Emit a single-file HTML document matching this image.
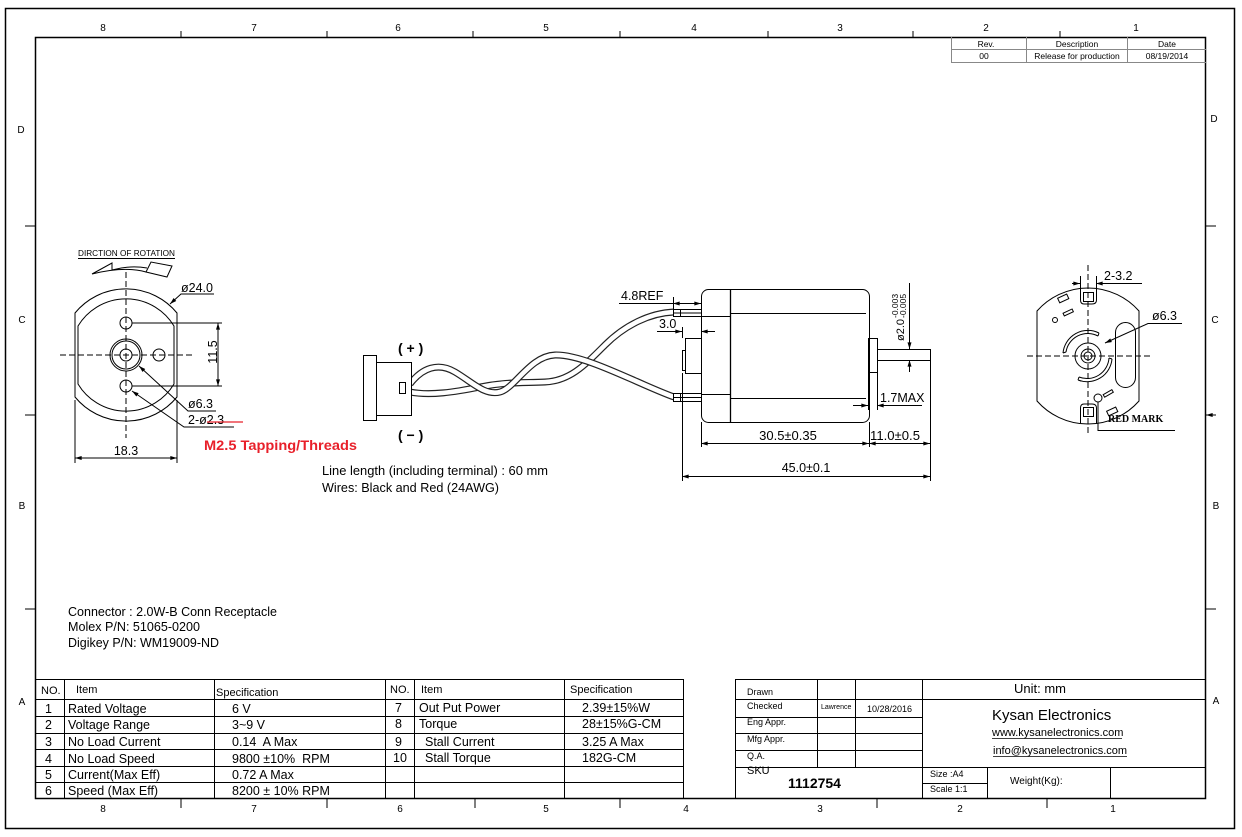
<!DOCTYPE html>
<html><head><meta charset="utf-8"><style>
html,body{margin:0;padding:0;background:#fff;}
svg{display:block;}
text{font-family:"Liberation Sans",Arial,sans-serif;fill:#000;}
.z{font-family:"Liberation Mono",monospace;font-size:10px;fill:#222;}
.c{font-size:12.5px;}
.t{font-size:12.5px;}
.h{font-size:11px;}
.g{font-size:8.5px;fill:#777;}
</style></head><body>
<svg width="1242" height="837" viewBox="0 0 1242 837" xmlns="http://www.w3.org/2000/svg">
<defs>
<marker id="a" viewBox="0 0 10 6" refX="10" refY="3" markerWidth="7" markerHeight="4" orient="auto-start-reverse" markerUnits="userSpaceOnUse"><path d="M0,0 L10,3 L0,6 z" fill="#000"/></marker>
</defs>
<rect width="1242" height="837" fill="#fff"/>
<!-- borders -->
<rect x="5.5" y="8.5" width="1229" height="820" fill="none" stroke="#000" stroke-width="1.5"/>
<rect x="35.5" y="37.5" width="1170" height="761" fill="none" stroke="#000" stroke-width="1.5"/>
<!-- zone ticks -->
<g stroke="#000" stroke-width="1">
<path d="M181,31V37M327,31V37M473,31V37M620,31V37M768,31V37M913,31V37M1060,31V37"/>
<path d="M181,799V808M327,799V808M475,799V808M620,799V808M877,799V808M1047,799V808"/>
<path d="M25,226H35M25,415H35M25,609H35"/>
<path d="M1206,226H1216M1206,609H1216"/>
<path d="M1206,415H1216" marker-start="url(#a)"/>
</g>
<g class="z" text-anchor="middle">
<text x="103" y="31">8</text><text x="254" y="31">7</text><text x="398" y="31">6</text><text x="546" y="31">5</text><text x="694" y="31">4</text><text x="840" y="31">3</text><text x="986" y="31">2</text><text x="1136" y="31">1</text>
<text x="103" y="812">8</text><text x="254" y="812">7</text><text x="400" y="812">6</text><text x="546" y="812">5</text><text x="686" y="812">4</text><text x="820" y="812">3</text><text x="960" y="812">2</text><text x="1113" y="812">1</text>
<text x="21" y="133">D</text><text x="22" y="323">C</text><text x="22" y="509">B</text><text x="22" y="705">A</text>
<text x="1214" y="122">D</text><text x="1215" y="323">C</text><text x="1216" y="509">B</text><text x="1216" y="704">A</text>
</g>
<!-- revision block -->
<g stroke="#888" stroke-width="1" fill="none">
<path d="M951.5,37V62.5H1206M951.5,49.5H1206M1026.5,37V62.5M1127.5,37V62.5"/>
</g>
<g class="g" text-anchor="middle">
<text x="986" y="47">Rev.</text><text x="1077" y="47">Description</text><text x="1167" y="47">Date</text>
<text x="984" y="59">00</text><text x="1077" y="59">Release for production</text><text x="1167" y="59">08/19/2014</text>
</g>

<!-- LEFT VIEW -->
<text x="78" y="256" font-size="8.3" textLength="97" lengthAdjust="spacingAndGlyphs">DIRCTION OF ROTATION</text>
<path d="M78,258.5H175" stroke="#000" stroke-width="1"/>
<g fill="none" stroke="#000" stroke-width="1">
<path d="M92,274 L112,263 L112,270 Q130,265 147,268 M92,274 Q125,266 146,272"/>
<path d="M146,272 L151,262 L172,266 L167,277 Z"/>
<path d="M75,313 A66,66 0 0 1 177,313 L177,397 A66,66 0 0 1 75,397 Z"/>
<path d="M78,326 A56,56 0 0 1 174,326 L174,384 A56,56 0 0 1 78,384 Z"/>
<circle cx="126" cy="323" r="6"/><circle cx="126" cy="386" r="6"/><circle cx="159" cy="355" r="6"/>
<circle cx="126" cy="355" r="16"/><circle cx="126" cy="355" r="14"/><circle cx="126" cy="355" r="6"/>
<path d="M60,355H192M126,272V438" stroke-dasharray="6,3"/>
<path d="M132,323H222M132,386H222"/>
<path d="M218,323V386" marker-start="url(#a)" marker-end="url(#a)"/>
<path d="M214,294H181L170,304" marker-end="url(#a)"/>
<path d="M216,411H188L139,366" marker-end="url(#a)"/>
<path d="M234,427H184L132,391" marker-end="url(#a)"/>
<path d="M75,400V463M177,400V463"/>
<path d="M75,458H177" marker-start="url(#a)" marker-end="url(#a)"/>
</g>
<text x="181" y="292" font-size="12.5">ø24.0</text>
<text transform="translate(217,352) rotate(-90)" text-anchor="middle" font-size="12.5">11.5</text>
<text x="188" y="408" font-size="12.5">ø6.3</text>
<text x="188" y="424" font-size="12.5">2-ø2.3</text>
<path d="M207,422H243" stroke="#e8202a" stroke-width="1.2"/>
<text x="126" y="455" font-size="12.5" text-anchor="middle">18.3</text>
<text x="204" y="450" font-size="14" font-weight="bold" style="fill:#e8202a" textLength="153" lengthAdjust="spacingAndGlyphs">M2.5 Tapping/Threads</text>

<!-- CONNECTOR + WIRES -->
<g fill="none">
<path id="wb" d="M410,392 C430,396 455,392 480,387 S520,383 545,382 C570,381 585,365 605,345 C625,325 650,313 674,312" stroke="#222" stroke-width="7"/>
<path d="M410,392 C430,396 455,392 480,387 S520,383 545,382 C570,381 585,365 605,345 C625,325 650,313 674,312" stroke="#fff" stroke-width="4.6"/>
<path d="M410,384 C422,368 438,362 455,372 S485,396 500,392 C515,388 530,356 555,355 C585,354 640,385 674,397" stroke="#222" stroke-width="7"/>
<path d="M410,384 C422,368 438,362 455,372 S485,396 500,392 C515,388 530,356 555,355 C585,354 640,385 674,397" stroke="#fff" stroke-width="4.6"/>
</g>
<g fill="#fff" stroke="#000" stroke-width="1">
<rect x="363.5" y="355.5" width="13" height="65"/>
<rect x="376.5" y="362.5" width="35" height="53"/>
<rect x="399.5" y="382.5" width="6" height="11"/>
</g>
<text x="398" y="353" font-size="14" font-weight="bold">( + )</text>
<text x="398" y="440" font-size="14" font-weight="bold">( − )</text>
<text x="322" y="475" class="t" textLength="226" lengthAdjust="spacingAndGlyphs">Line length (including terminal) :  60 mm</text>
<text x="322" y="492" class="t" textLength="177" lengthAdjust="spacingAndGlyphs">Wires: Black and Red (24AWG)</text>

<!-- MOTOR SIDE VIEW -->
<g fill="none" stroke="#000" stroke-width="1">
<rect x="701.5" y="289.5" width="168" height="133" rx="7" fill="#fff"/>
<path d="M730.5,289V422" stroke-width="1.3"/>
<path d="M730,313.5H866M730,398.5H866M701,316.5H730M701,394.5H730"/>
<rect x="685.5" y="338.5" width="16" height="35"/>
<rect x="682.5" y="350.5" width="3" height="20"/>
<rect x="673.5" y="309.5" width="28" height="7" fill="#fff"/><path d="M680.5,309V316M673,313H701"/>
<rect x="673.5" y="393.5" width="28" height="8" fill="#fff"/><path d="M680.5,393V401M673,397.5H701"/>
<rect x="868.5" y="338.5" width="9" height="34"/>
<rect x="877.5" y="349.5" width="53" height="11"/>
<path d="M909.5,283V349" marker-end="url(#a)"/>
<path d="M909.5,372V360" marker-end="url(#a)"/>
<path d="M619,303.5H673M673.5,297V309"/>
<path d="M673,303.5H701" marker-start="url(#a)" marker-end="url(#a)"/>
<path d="M657,331.5H672"/>
<path d="M670,331.5H682" marker-end="url(#a)"/>
<path d="M715,331.5H701" marker-end="url(#a)"/>
<path d="M682.5,327V338"/>
<path d="M877,405.5H922"/>
<path d="M853,405.5H868" marker-end="url(#a)"/>
<path d="M886,405.5H877" marker-end="url(#a)"/>
<path d="M868.5,372V410M877.5,360V410"/>
<path d="M701.5,422V447M869.5,422V447"/>
<path d="M701,443.5H869" marker-start="url(#a)" marker-end="url(#a)"/>
<path d="M869,443.5H930" marker-start="url(#a)" marker-end="url(#a)"/>
<path d="M682.5,373V481M930.5,360V481"/>
<path d="M682,476.5H930" marker-start="url(#a)" marker-end="url(#a)"/>
</g>
<text x="621" y="300" font-size="12.5">4.8REF</text>
<text x="659" y="328" font-size="12.5">3.0</text>
<text x="880" y="402" font-size="12.5">1.7MAX</text>
<text x="788" y="440" font-size="13" text-anchor="middle">30.5±0.35</text>
<text x="870" y="440" font-size="12.5" textLength="50" lengthAdjust="spacingAndGlyphs">11.0±0.5</text>
<text x="806" y="472" font-size="12.5" text-anchor="middle">45.0±0.1</text>
<text transform="translate(904,341) rotate(-90)" font-size="11">ø2.0</text>
<text transform="translate(898,318) rotate(-90)" font-size="8.5">-0.003</text>
<text transform="translate(906,318) rotate(-90)" font-size="8.5">-0.005</text>

<!-- RIGHT VIEW -->
<g fill="none" stroke="#000" stroke-width="1">
<path d="M1037,311 A68,68 0 0 1 1139,311 L1139,401 A68,68 0 0 1 1037,401 Z"/>
<path d="M1080.5,289V300Q1080.5,304 1084,304H1092Q1096.5,304 1096.5,300V289"/>
<rect x="1083.5" y="292.5" width="10" height="9"/>
<path d="M1080.5,423V408Q1080.5,404 1084,404H1092Q1096.5,404 1096.5,408V423"/>
<rect x="1083.5" y="407.5" width="10" height="9"/>
<rect x="1115.5" y="322.5" width="20" height="65" rx="10"/>
<circle cx="1088" cy="356" r="13"/><circle cx="1088" cy="356" r="7"/><circle cx="1088" cy="356" r="4"/>
<path d="M1066,352 A22,22 0 0 1 1098,336M1063,353 A25,25 0 0 1 1099,333M1066,352L1063,353M1098,336L1099,333"/>
<path d="M1079,377 A22,22 0 0 0 1109,358M1078,380 A25,25 0 0 0 1112,359M1079,377L1078,380M1109,358L1112,359"/>
<path d="M1088,265V436M1027,356H1150" stroke-dasharray="6,3"/>
<circle cx="1055" cy="320" r="2.5"/>
<rect x="1063" y="311" width="10" height="3" transform="rotate(-25 1068 312)"/>
<rect x="1058" y="296" width="10" height="5" transform="rotate(-25 1063 298)"/>
<rect x="1107" y="409" width="10" height="5" transform="rotate(-25 1112 411)"/>
<circle cx="1098" cy="398" r="4"/>
<rect x="1103" y="392" width="10" height="3" transform="rotate(-30 1108 393)"/>
<path d="M1098,402V430.5H1175"/>
<path d="M1098,283.5H1142"/>
<path d="M1072,283.5H1080" marker-end="url(#a)"/>
<path d="M1104,283.5H1096" marker-end="url(#a)"/>
<path d="M1080.5,276V289M1096.5,276V289"/>
<path d="M1182,323.5H1148L1105,343" marker-end="url(#a)"/>
</g>
<text x="1104" y="280" font-size="12.5">2-3.2</text>
<text x="1152" y="320" font-size="12.5">ø6.3</text>
<text x="1108" y="422" font-size="10" font-weight="bold" style="font-family:'Liberation Serif',serif">RED MARK</text>

<!-- CONNECTOR NOTES -->
<text x="68" y="616" class="c" textLength="209" lengthAdjust="spacingAndGlyphs">Connector : 2.0W-B Conn Receptacle</text>
<text x="68" y="631" class="c" textLength="132" lengthAdjust="spacingAndGlyphs">Molex P/N: 51065-0200</text>
<text x="68" y="647" class="c" textLength="151" lengthAdjust="spacingAndGlyphs">Digikey P/N: WM19009-ND</text>

<!-- SPEC TABLE -->
<g fill="none" stroke="#000" stroke-width="1">
<path d="M35,679.5H683.5M35,699.5H683M35,716.5H683M35,733.5H683M35,749.5H683M35,766.5H683M35,782.5H683"/>
<path d="M64.5,679V799M214.5,679V799M385.5,679V799M414.5,679V799M564.5,679V799M683.5,679V799"/>
</g>
<g class="h">
<text x="41" y="694">NO.</text><text x="76" y="693">Item</text><text x="216" y="696">Specification</text>
<text x="390" y="693">NO.</text><text x="421" y="693">Item</text><text x="570" y="693">Specification</text>
</g>
<g class="t">
<text x="45" y="713">1</text><text x="68" y="713">Rated Voltage</text><text x="232" y="713">6 V</text>
<text x="45" y="729">2</text><text x="68" y="729">Voltage Range</text><text x="232" y="729">3~9 V</text>
<text x="45" y="746">3</text><text x="68" y="746">No Load Current</text><text x="232" y="746" xml:space="preserve">0.14  A Max</text>
<text x="45" y="763">4</text><text x="68" y="763">No Load Speed</text><text x="232" y="763" xml:space="preserve">9800 ±10%  RPM</text>
<text x="45" y="779">5</text><text x="68" y="779">Current(Max Eff)</text><text x="232" y="779">0.72 A Max</text>
<text x="45" y="795">6</text><text x="68" y="795">Speed (Max Eff)</text><text x="232" y="795">8200 ± 10% RPM</text>
<text x="395" y="712">7</text><text x="419" y="712">Out Put Power</text><text x="582" y="712">2.39±15%W</text>
<text x="395" y="728">8</text><text x="419" y="728">Torque</text><text x="582" y="728">28±15%G-CM</text>
<text x="395" y="746">9</text><text x="425" y="746">Stall Current</text><text x="582" y="746">3.25 A Max</text>
<text x="393" y="762">10</text><text x="425" y="762">Stall Torque</text><text x="582" y="762">182G-CM</text>
</g>

<!-- TITLE BLOCK -->
<g fill="none" stroke="#000" stroke-width="1">
<path d="M735,679.5H1206M735,699.5H1206M735,717.5H922M735,733.5H922M735,750.5H922M735,767.5H1206M922,783.5H987"/>
<path d="M735.5,679V799M817.5,679V767M855.5,679V767M922.5,679V799M987.5,767V799M1110.5,767V799"/>
</g>
<g font-size="9">
<text x="747" y="695">Drawn</text>
<text x="747" y="709">Checked</text>
<text x="747" y="725">Eng Appr.</text>
<text x="747" y="742">Mfg Appr.</text>
<text x="747" y="759">Q.A.</text>
<text x="867" y="712">10/28/2016</text>
<text x="930" y="777">Size :A4</text>
<text x="930" y="792">Scale 1:1</text>
</g>
<text x="821" y="709" font-size="7">Lawrence</text>
<text x="747" y="774" font-size="11">SKU</text>
<text x="788" y="788" font-size="14" font-weight="bold">1112754</text>
<text x="1040" y="693" font-size="13" text-anchor="middle">Unit: mm</text>
<text x="992" y="720" font-size="15">Kysan Electronics</text>
<text x="992" y="736" font-size="11">www.kysanelectronics.com</text>
<path d="M992,738.5H1122" stroke="#000" stroke-width="0.8"/>
<text x="993" y="754" font-size="11">info@kysanelectronics.com</text>
<path d="M993,756.5H1127" stroke="#000" stroke-width="0.8"/>
<text x="1010" y="784" font-size="10">Weight(Kg):</text>
</svg>
</body></html>
